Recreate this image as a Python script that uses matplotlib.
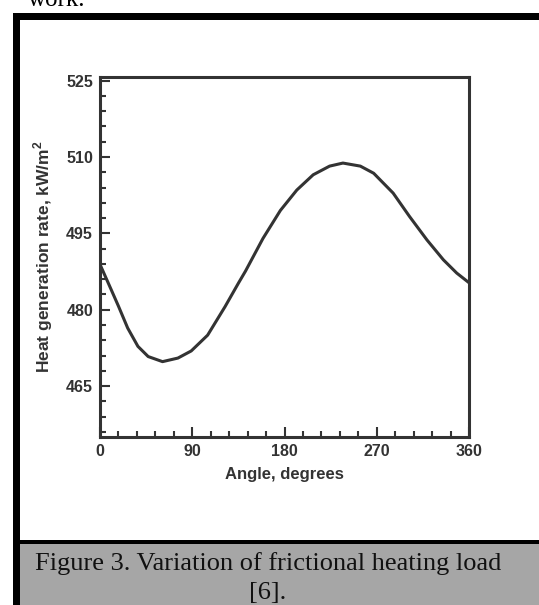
import numpy as np
import matplotlib.pyplot as plt
from matplotlib.patches import Rectangle
from matplotlib.ticker import MultipleLocator

# values
angle = [0, 11, 18, 27, 37, 47, 61, 76, 89, 105, 122, 135, 142, 159,
         176, 192, 208, 224, 237, 254, 267, 286, 302, 319, 335, 348, 360]
heat_rate = [488.9, 483.9, 480.7, 476.4, 472.8, 470.8, 469.8, 470.5, 471.9,
             475.0, 480.6, 485.2, 487.6, 494.0, 499.5, 503.5, 506.5, 508.2,
             508.8, 508.2, 506.8, 502.9, 498.3, 493.7, 489.8, 487.2, 485.3]
x_ticks = [0, 90, 180, 270, 360]
y_ticks = [465, 480, 495, 510, 525]

W, H = 539, 605
dark = "#333333"
sans = ["Liberation Sans", "DejaVu Sans"]
serif = ["Liberation Serif", "DejaVu Serif"]


def box(x0, y0, x1, y1):
    # pixel box (top-left origin) -> figure fraction rect args
    return (x0 / W, 1 - y1 / H), (x1 - x0) / W, (y1 - y0) / H


fig = plt.figure(figsize=(W / 100, H / 100), dpi=100)
fig.patch.set_facecolor("white")

# page frame pieces
for x0, y0, x1, y1, col in [(13, 13, 20, H, "black"),
                            (13, 13, W, 19.5, "black"),
                            (20, 540, W, 543.5, "black"),
                            (20, 543.5, W, H, "#a6a6a6")]:
    xy, w, h = box(x0, y0, x1, y1)
    fig.add_artist(Rectangle(xy, w, h, transform=fig.transFigure,
                             facecolor=col, edgecolor="none", zorder=0))

fig.text(28 / W, 1 - 6 / H, "work.", family=serif, fontsize=18,
         ha="left", va="baseline", color="black")
fig.text(268 / W, 1 - 564 / H, "Figure 3. Variation of frictional heating load",
         family=serif, fontsize=19, ha="center", va="center", color="#111111")
fig.text(268 / W, 1 - 593 / H, "[6].", family=serif, fontsize=19,
         ha="center", va="center", color="#111111")

ax = fig.add_axes([100 / W, 1 - 437 / H, 369 / W, (437 - 76.5) / H])
ax.plot(angle, heat_rate, color=dark, lw=2.2, solid_capstyle="round",
        solid_joinstyle="round")
ax.set_xlim(0, 360)
ax.set_ylim(455, 525.8)
ax.set_xticks(x_ticks)
ax.set_yticks(y_ticks)
ax.xaxis.set_minor_locator(MultipleLocator(18))
ax.yaxis.set_minor_locator(MultipleLocator(3))
ax.tick_params(which="both", direction="in", top=False, right=False,
               color=dark, width=1.5)
ax.tick_params(which="major", length=7, pad=5)
ax.tick_params(which="minor", length=4)
for lab in ax.get_xticklabels() + ax.get_yticklabels():
    lab.set_family(sans)
    lab.set_fontweight("bold")
    lab.set_fontsize(11.5)
    lab.set_color(dark)
for sp in ax.spines.values():
    sp.set_linewidth(2.2)
    sp.set_color(dark)

ax.set_xlabel("Angle, degrees", family=sans, fontweight="bold", fontsize=12,
              color=dark, labelpad=6)
ax.set_ylabel("Heat generation rate, kW/m$^\\mathregular{2}$", family=sans,
              fontweight="bold", fontsize=12.5, color=dark, labelpad=8)

fig.savefig("out.png", dpi=100)
